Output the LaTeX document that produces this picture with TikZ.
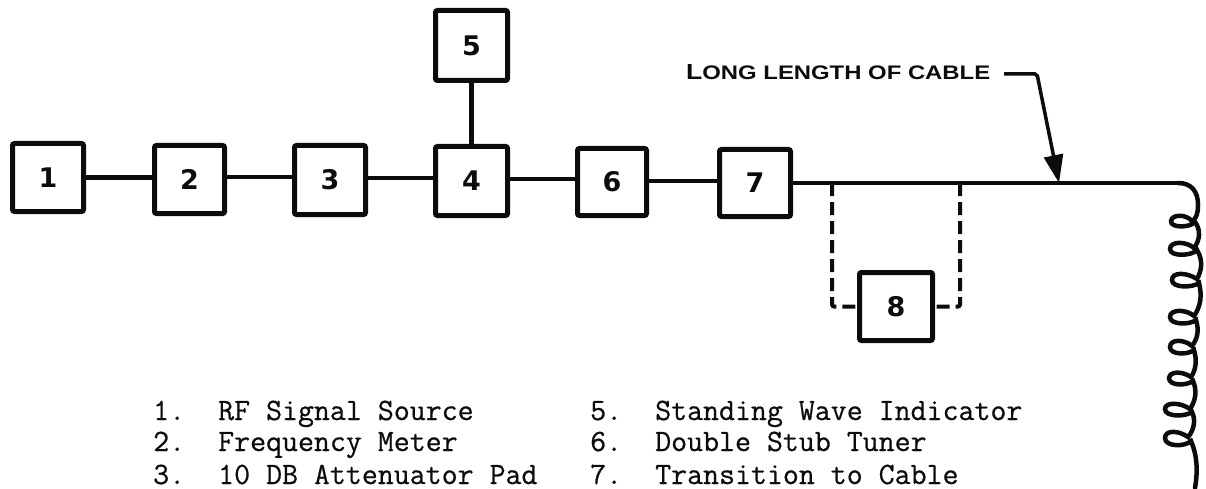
\documentclass[tikz,border=0pt]{standalone}
\usepackage{fontspec}
\setmainfont{Liberation Sans}
\newfontfamily\digitfont{DejaVu Sans}
\newfontfamily\legendfont[FakeBold=0.6]{Latin Modern Mono}
\usetikzlibrary{arrows.meta}
\definecolor{inkc}{HTML}{0C0C0C}
\tikzset{
  blockbox/.style={draw=inkc,line width=5pt,rounded corners=2pt,fill=white,inner sep=0pt,text=inkc,font=\digitfont\fontsize{27}{27}\selectfont\bfseries},
  wire/.style={draw=inkc,line width=4.5pt},
  stub/.style={draw=inkc,line width=4pt,dash pattern=on 13pt off 6pt},
  coilline/.style={draw=inkc,line width=4.5pt,line cap=round},
  legend/.style={anchor=base west,inner sep=0pt,text=inkc,font=\legendfont\fontsize{31}{31}\selectfont}
}
\begin{document}
\begin{tikzpicture}[x=1pt,y=-1pt]
\useasboundingbox (0,0) rectangle (1206,489);
\foreach \n/\x/\y/\w/\h in {1/48/177.5/71/68,2/189.5/179.5/70/68,3/330/180/71/69,4/471.5/181/72/69,5/471.5/45.5/72/70,6/612/182/69/67,7/755/183/71/67,8/896/306.5/73/68}{
  \node[blockbox,minimum width=\w pt,minimum height=\h pt] (b\n) at (\x,\y) {\n};
}
\draw[wire] (b1.east) -- (b1.east -| b2.west);
\coordinate (w2) at ([yshift=2.5pt]b2.east);
\draw[wire] (w2) -- (w2 -| b3.west);
\coordinate (w3) at ([yshift=2pt]b3.east);
\draw[wire] (w3) -- (w3 -| b4.west);
\coordinate (w4) at ([yshift=2pt]b4.east);
\draw[wire] (w4) -- (w4 -| b6.west);
\coordinate (w6) at ([yshift=1pt]b6.east);
\draw[wire] (w6) -- (w6 -| b7.west);
\draw[wire] (b4.north) -- (b5.south);
\coordinate (tapl) at (832,183);
\coordinate (tapr) at (960,183);
\coordinate (bend) at (1178,183);
\coordinate (hit) at (1059,183);
\draw[wire] (b7.east) -- (bend);
\draw[stub,rounded corners=2pt] (tapl) -- (tapl |- b8.west) -- (b8.west);
\draw[stub,rounded corners=2pt] (tapr) -- (tapr |- b8.east) -- (b8.east);
% coil
\draw[coilline] (bend) .. controls (1192,183) and (1198,192) .. (1198,205)
  .. controls (1198,214) and (1196,219) .. (1192,221)
  .. controls (1186,214) and (1172,214) .. (1171,221)
  .. controls (1170,228) and (1190,228) .. (1195,222)
  .. controls (1201,230) and (1200,240) .. (1194,248)
  .. controls (1186,241) and (1170,241) .. (1170,249)
  .. controls (1170,257) and (1192,256) .. (1197,250)
  .. controls (1203,260) and (1202,270) .. (1197,279)
  .. controls (1186,272) and (1172,272) .. (1172,280)
  .. controls (1172,288) and (1192,288) .. (1199,283)
  .. controls (1202,295) and (1201,306) .. (1194,316)
  .. controls (1186,309) and (1170,309) .. (1170,317)
  .. controls (1170,325) and (1190,325) .. (1196,320)
  .. controls (1199,330) and (1198,338) .. (1192,346)
  .. controls (1184,339) and (1170,339) .. (1170,347)
  .. controls (1170,355) and (1188,355) .. (1194,350)
  .. controls (1197,360) and (1196,370) .. (1191,377)
  .. controls (1182,371) and (1170,371) .. (1169,378)
  .. controls (1169,386) and (1186,386) .. (1193,381)
  .. controls (1197,390) and (1196,400) .. (1190,409)
  .. controls (1180,402) and (1165,402) .. (1165,409)
  .. controls (1165,417) and (1185,417) .. (1192,412)
  .. controls (1196,420) and (1194,430) .. (1188,437)
  .. controls (1178,430) and (1165,430) .. (1165,438)
  .. controls (1165,447) and (1185,447) .. (1191,441)
  .. controls (1197,455) and (1198,470) .. (1195,488);
% leader
\node[anchor=base west,inner sep=0pt,text=inkc] (cablelabel) at (686,80) {\resizebox{304pt}{15pt}{\bfseries L\fontsize{9}{9}\selectfont ONG LENGTH OF CABLE}};
\coordinate (kneea) at (1004,74);
\coordinate (kneeb) at (1037,74);
\draw[wire,line width=3.5pt,rounded corners=2pt,-{Triangle[length=28pt,width=19pt]}] (kneea) -- (kneeb) -- (hit);
% legend
\foreach \t/\n/\m/\y in {1./RF Signal Source/leg1/420,2./Frequency Meter/leg2/451,3./10 DB Attenuator Pad/leg3/484}{
  \node[legend] (\m n) at (153,\y) {\t};
  \node[legend] (\m) at (218,\y) {\n};
}
\foreach \t/\n/\m/\y in {5./Standing Wave Indicator/leg5/420,6./Double Stub Tuner/leg6/451,7./Transition to Cable/leg7/484}{
  \node[legend] (\m n) at (590,\y) {\t};
  \node[legend] (\m) at (655,\y) {\n};
}
\end{tikzpicture}
\end{document}
